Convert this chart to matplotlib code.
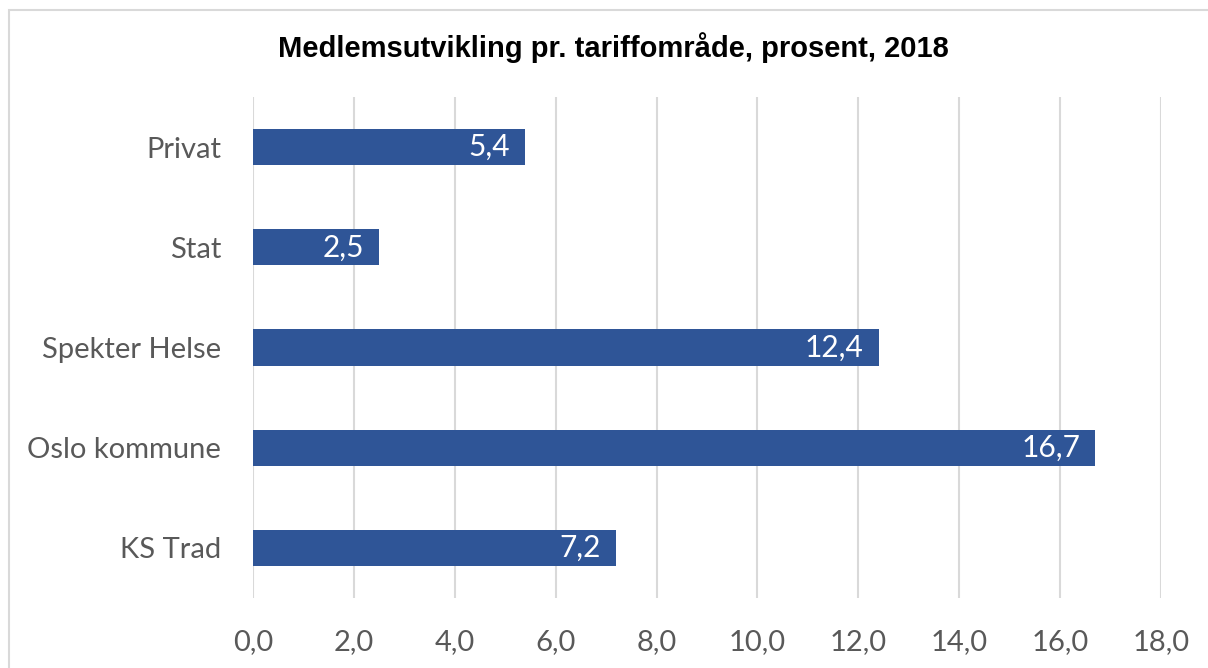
import matplotlib.pyplot as plt
from matplotlib.patches import Rectangle

categories = ["KS Trad", "Oslo kommune", "Spekter Helse", "Stat", "Privat"]
values = [7.2, 16.7, 12.4, 2.5, 5.4]
xticks = [0, 2, 4, 6, 8, 10, 12, 14, 16, 18]

bar_color = "#2F5597"
label_font = ["Lato", "DejaVu Sans"]

fig = plt.figure(figsize=(12.08, 6.68), dpi=100)
fig.patches.append(Rectangle((9 / 1208, -0.1), 1.2, 1 - 10 / 668 + 0.1,
                             transform=fig.transFigure, fill=False,
                             edgecolor="#D9D9D9", linewidth=1.5))

ax = fig.add_axes([253 / 1208, 1 - 598 / 668, 908 / 1208, 501 / 668])
pos = range(len(categories))
ax.barh(pos, values, height=0.36, color=bar_color, zorder=3)

for i, v in enumerate(values):
    ax.text(v - 0.3, i, f"{v:.1f}".replace(".", ","), color="white",
            ha="right", va="center", fontsize=21.5, family=label_font, zorder=4)

ax.set_xlim(0, 18)
ax.set_ylim(-0.5, 4.5)
ax.set_xticks(xticks)
ax.set_xticklabels([f"{t:.1f}".replace(".", ",") for t in xticks],
                   family=label_font, fontsize=21, color="#595959")
ax.set_yticks(list(pos))
ax.set_yticklabels(categories, family=label_font, fontsize=21, color="#595959")
ax.tick_params(axis="both", length=0)
ax.tick_params(axis="x", pad=22)
ax.tick_params(axis="y", pad=23)
ax.grid(axis="x", color="#D9D9D9", linewidth=1.5, zorder=0)
for s in ax.spines.values():
    s.set_visible(False)

fig.text(613 / 1208, 1 - 48 / 668, "Medlemsutvikling pr. tariffområde, prosent, 2018",
         ha="center", va="center", fontsize=21, fontweight="bold",
         family=["Liberation Sans", "DejaVu Sans"])

fig.savefig("out.png", dpi=100)
